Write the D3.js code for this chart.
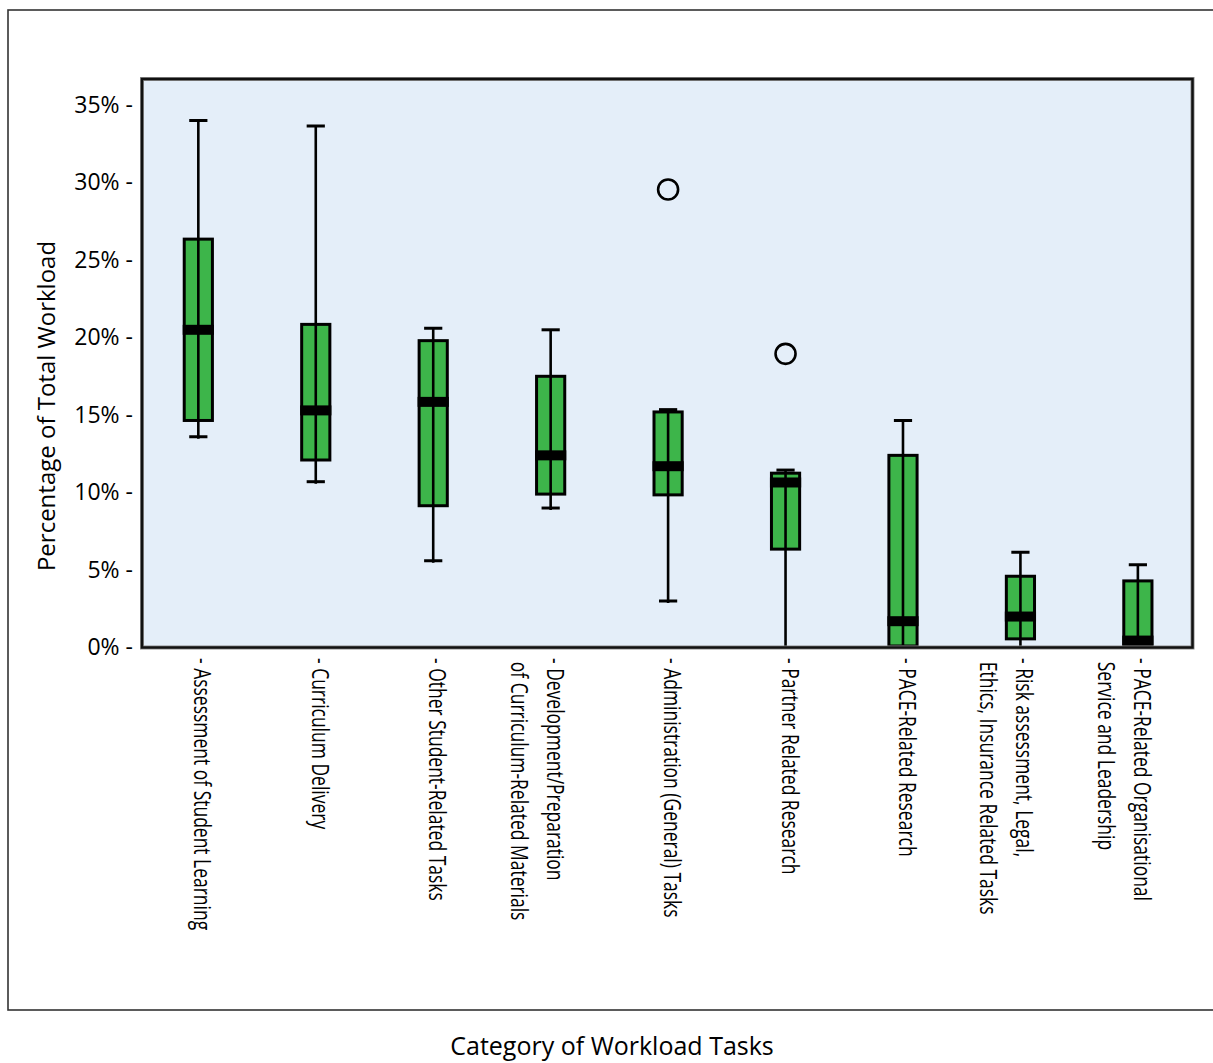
<!DOCTYPE html>
<html>
<head>
<meta charset="utf-8">
<script src="https://cdn.jsdelivr.net/npm/d3@7"></script>
<style>
  body { margin: 0; background: #fff; }
  svg { display: block; }
</style>
</head>
<body>
<svg id="chart" width="1213" height="1063"></svg>
<script>
// Workload task categories (each entry is one label, split into lines)
const categories = [
  "Assessment of Student Learning",
  "Curriculum Delivery",
  "Other Student-Related Tasks",
  "Development/Preparation of Curriculum-Related Materials",
  "Administration (General) Tasks",
  "Partner Related Research",
  "PACE-Related Research",
  "Risk assessment, Legal, Ethics, Insurance Related Tasks",
  "PACE-Related Organisational Service and Leadership"
];
const labelLines = [
  ["Assessment of Student Learning"],
  ["Curriculum Delivery"],
  ["Other Student-Related Tasks"],
  ["Development/Preparation", "of Curriculum-Related Materials"],
  ["Administration (General) Tasks"],
  ["Partner Related Research"],
  ["PACE-Related Research"],
  ["Risk assessment, Legal,", "Ethics, Insurance Related Tasks"],
  ["PACE-Related Organisational", "Service and Leadership"]
];

// Box-plot statistics, percent of total workload
const whiskerLow  = [13.5, 10.6, 5.5, 8.9, 2.9, 0, 0, 0, 0];
const q1          = [14.55, 12.0, 9.05, 9.8, 9.75, 6.25, 0, 0.46, 0];
const median      = [20.4, 15.2, 15.75, 12.3, 11.6, 10.55, 1.6, 1.9, 0.35];
const q3          = [26.25, 20.75, 19.7, 17.4, 15.1, 11.15, 12.3, 4.5, 4.2];
const whiskerHigh = [33.9, 33.55, 20.5, 20.4, 15.25, 11.35, 14.55, 6.05, 5.25];

// Outliers: category index and value
const outlierCategory = [4, 5];
const outlierValue    = [29.45, 18.85];

// Y axis ticks
const yTicks = [0, 5, 10, 15, 20, 25, 30, 35];

const yTitle = "Percentage of Total Workload";
const xTitle = "Category of Workload Tasks";

// ---- layout ----
const svg = d3.select("#chart");
const frame = { left: 142, right: 1192.5, top: 79, bottom: 647.5 };

const y = d3.scaleLinear().domain([0, 35]).range([646, 103.5]);
const x = d3.scaleBand().domain(categories).range([139.6, 1196.6]);
const cx = i => x(categories[i]) + x.bandwidth() / 2;

const boxW = x.bandwidth() * 0.24;
const capW = x.bandwidth() * 0.155;
const green = "#3db54a";
const labelFont = "'Open Sans', 'Noto Sans', sans-serif";
const condense = 0.76;

const boxes = categories.map((c, i) => ({
  i, lo: whiskerLow[i], q1: q1[i], med: median[i], q3: q3[i], hi: whiskerHigh[i]
}));

// outer frame
svg.append("rect")
  .attr("x", 8).attr("y", 10)
  .attr("width", 1230).attr("height", 1000)
  .attr("fill", "#fff")
  .attr("stroke", "#333").attr("stroke-width", 1.6);

// plot background
svg.append("rect")
  .attr("x", frame.left).attr("y", frame.top)
  .attr("width", frame.right - frame.left)
  .attr("height", frame.bottom - frame.top)
  .attr("fill", "#e4eef9");

svg.append("clipPath").attr("id", "plotClip")
  .append("rect")
  .attr("x", frame.left).attr("y", frame.top)
  .attr("width", frame.right - frame.left)
  .attr("height", frame.bottom - frame.top);

const plot = svg.append("g").attr("clip-path", "url(#plotClip)");

const g = plot.selectAll("g.box").data(boxes).join("g").attr("class", "box");

// whisker caps (a cap sitting on the 0% baseline merges into the axis)
g.append("line")
  .attr("x1", d => cx(d.i) - capW / 2).attr("x2", d => cx(d.i) + capW / 2)
  .attr("y1", d => y(d.hi)).attr("y2", d => y(d.hi))
  .attr("stroke", "#000").attr("stroke-width", 3);
g.filter(d => d.lo > 0).append("line")
  .attr("x1", d => cx(d.i) - capW / 2).attr("x2", d => cx(d.i) + capW / 2)
  .attr("y1", d => y(d.lo)).attr("y2", d => y(d.lo))
  .attr("stroke", "#000").attr("stroke-width", 3);

// interquartile box
g.append("rect")
  .attr("x", d => cx(d.i) - boxW / 2)
  .attr("y", d => y(d.q3))
  .attr("width", boxW)
  .attr("height", d => y(d.q1) - y(d.q3))
  .attr("fill", green)
  .attr("stroke", "#000").attr("stroke-width", 3);

// whisker stem, running through the box
g.append("line")
  .attr("x1", d => cx(d.i)).attr("x2", d => cx(d.i))
  .attr("y1", d => y(d.hi)).attr("y2", d => y(d.lo) + 2)
  .attr("stroke", "#000").attr("stroke-width", 2.6);

// median band
const medH = 10;
g.append("rect")
  .attr("x", d => cx(d.i) - boxW / 2 - 1.5)
  .attr("y", d => y(d.med) - medH / 2)
  .attr("width", boxW + 3)
  .attr("height", medH)
  .attr("fill", "#000");

// outliers
plot.selectAll("circle.outlier")
  .data(outlierValue.map((v, k) => ({ i: outlierCategory[k], v })))
  .join("circle")
  .attr("class", "outlier")
  .attr("cx", d => cx(d.i))
  .attr("cy", d => y(d.v))
  .attr("r", 10)
  .attr("fill", "none")
  .attr("stroke", "#000").attr("stroke-width", 2.6);

// plot border
svg.append("rect")
  .attr("x", frame.left).attr("y", frame.top)
  .attr("width", frame.right - frame.left)
  .attr("height", frame.bottom - frame.top)
  .attr("fill", "none")
  .attr("stroke", "#8a8a8a").attr("stroke-width", 4);
svg.append("rect")
  .attr("x", frame.left).attr("y", frame.top)
  .attr("width", frame.right - frame.left)
  .attr("height", frame.bottom - frame.top)
  .attr("fill", "none")
  .attr("stroke", "#111").attr("stroke-width", 2.4);

// y tick labels (the trailing dash acts as the tick)
svg.append("g").selectAll("text")
  .data(yTicks).join("text")
  .attr("x", 133)
  .attr("y", d => y(d))
  .attr("text-anchor", "end")
  .attr("dominant-baseline", "central")
  .attr("font-family", labelFont)
  .attr("font-size", 23)
  .attr("fill", "#000")
  .text(d => d + "% -");

// y axis title
svg.append("text")
  .attr("transform", "translate(45,406) rotate(-90)")
  .attr("text-anchor", "middle")
  .attr("dominant-baseline", "central")
  .attr("font-family", labelFont)
  .attr("font-size", 24)
  .attr("fill", "#000")
  .text(yTitle);

// x tick labels, rotated to read downward
const xl = svg.append("g").selectAll("text")
  .data(labelLines.map((lines, i) => ({ i, lines })))
  .join("text")
  .attr("transform", d => `translate(${cx(d.i) + 5},658) rotate(90) scale(${condense},1)`)
  .attr("dominant-baseline", "central")
  .attr("font-family", labelFont)
  .attr("font-size", 23)
  .attr("fill", "#000");
xl.each(function (d) {
  const t = d3.select(this);
  d.lines.forEach((line, k) => {
    t.append("tspan")
      .attr("x", k === 0 ? 0 : 5)
      .attr("y", k * 36)
      .text(k === 0 ? "- " + line : line);
  });
});

// x axis title
svg.append("text")
  .attr("transform", "translate(612,1045)")
  .attr("text-anchor", "middle")
  .attr("dominant-baseline", "central")
  .attr("font-family", labelFont)
  .attr("font-size", 25)
  .attr("fill", "#000")
  .text(xTitle);
</script>
</body>
</html>
